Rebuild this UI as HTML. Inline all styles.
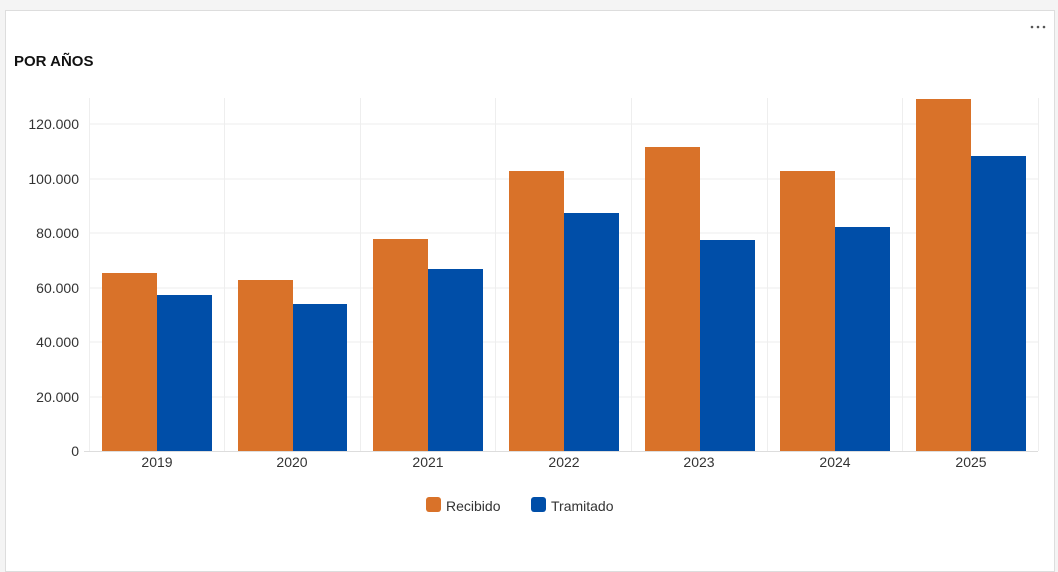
<!DOCTYPE html>
<html><head><meta charset="utf-8"><style>
body{margin:0;background:#f4f4f4;width:1058px;height:533px;overflow:hidden;font-family:"Liberation Sans",sans-serif}
.card{position:absolute;left:5px;top:10px;width:1048px;height:560px;background:#fff;border:1px solid #ddd}
</style></head><body>
<div class="card"></div>
<svg width="1058" height="533" style="position:absolute;left:0;top:0" font-family="Liberation Sans, sans-serif">
<text x="14" y="66" font-size="15" font-weight="bold" fill="#111">POR AÑOS</text>
<g fill="#555"><circle cx="1032" cy="27" r="1.3"/><circle cx="1038" cy="27" r="1.3"/><circle cx="1044" cy="27" r="1.3"/></g>
<g stroke="#eee" stroke-width="1">
<line x1="89" y1="124" x2="1038" y2="124"/><line x1="89" y1="179" x2="1038" y2="179"/><line x1="89" y1="233" x2="1038" y2="233"/><line x1="89" y1="288" x2="1038" y2="288"/><line x1="89" y1="342" x2="1038" y2="342"/><line x1="89" y1="397" x2="1038" y2="397"/>
<line x1="89.5" y1="98" x2="89.5" y2="451"/><line x1="224.5" y1="98" x2="224.5" y2="451"/><line x1="360.5" y1="98" x2="360.5" y2="451"/><line x1="495.5" y1="98" x2="495.5" y2="451"/><line x1="631.5" y1="98" x2="631.5" y2="451"/><line x1="767.5" y1="98" x2="767.5" y2="451"/><line x1="902.5" y1="98" x2="902.5" y2="451"/><line x1="1038.5" y1="98" x2="1038.5" y2="451"/>
</g>
<g fill="#d97229">
<rect x="102" y="273" width="55" height="178"/><rect x="238" y="280" width="55" height="171"/><rect x="373" y="239" width="55" height="212"/><rect x="509" y="171" width="55" height="280"/><rect x="645" y="147" width="55" height="304"/><rect x="780" y="171" width="55" height="280"/><rect x="916" y="99" width="55" height="352"/>
</g>
<g fill="#004ea8">
<rect x="157" y="295" width="55" height="156"/><rect x="293" y="304" width="54" height="147"/><rect x="428" y="269" width="55" height="182"/><rect x="564" y="213" width="55" height="238"/><rect x="700" y="240" width="55" height="211"/><rect x="835" y="227" width="55" height="224"/><rect x="971" y="156" width="55" height="295"/>
</g>
<line x1="84" y1="451.5" x2="1038" y2="451.5" stroke="#ddd"/>
<g font-size="14" fill="#333" text-anchor="end">
<text x="79" y="129">120.000</text><text x="79" y="184">100.000</text><text x="79" y="238">80.000</text><text x="79" y="293">60.000</text><text x="79" y="347">40.000</text><text x="79" y="402">20.000</text><text x="79" y="456">0</text>
</g>
<g font-size="14" fill="#333" text-anchor="middle">
<text x="157" y="467">2019</text><text x="292" y="467">2020</text><text x="428" y="467">2021</text><text x="564" y="467">2022</text><text x="699" y="467">2023</text><text x="835" y="467">2024</text><text x="971" y="467">2025</text>
</g>
<rect x="426" y="497" width="15" height="15" rx="3" fill="#d97229"/>
<text x="446" y="511" font-size="14" fill="#333">Recibido</text>
<rect x="531" y="497" width="15" height="15" rx="3" fill="#004ea8"/>
<text x="551" y="511" font-size="14" fill="#333">Tramitado</text>
</svg>
</body></html>
